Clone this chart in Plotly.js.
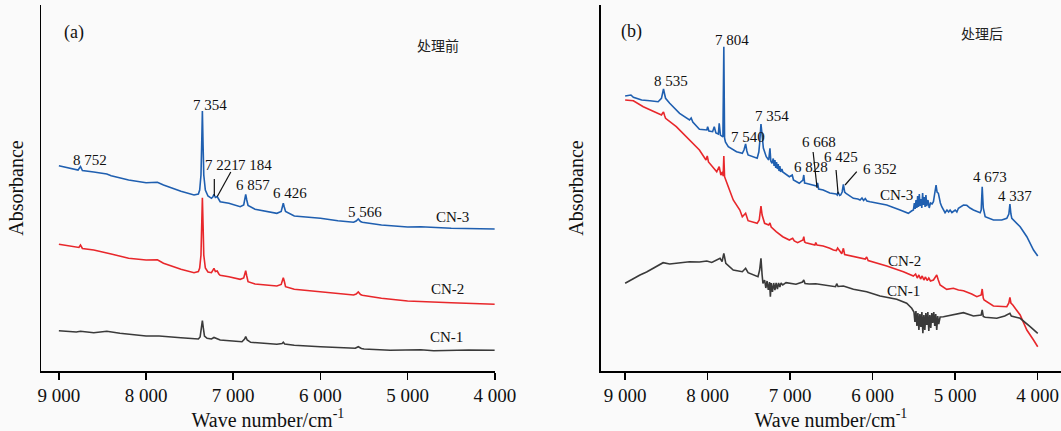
<!DOCTYPE html>
<html>
<head>
<meta charset="utf-8">
<script src="https://cdn.plot.ly/plotly-3.0.1.min.js"></script>
<style>
  html, body { margin: 0; padding: 0; background: #fafafa; }
  #chart { width: 1061px; height: 431px; }
</style>
</head>
<body>
<div id="chart"></div>
<script>
// NIR spectra (absorbance, arbitrary offset) of CN-1..CN-3, before (a) and after (b) treatment

const tickVals = [9000, 8000, 7000, 6000, 5000, 4000];
const tickText = ['9 000', '8 000', '7 000', '6 000', '5 000', '4 000'];

// ---- Panel (a): before treatment ----
const waveA_CN3 = [9000, 8800, 8780, 8752, 8730, 8600, 8450, 8400, 8200, 8000, 7870, 7800, 7600, 7450, 7400, 7385, 7370, 7362, 7354, 7346, 7338, 7320, 7290, 7250, 7235, 7221, 7205, 7184, 7165, 7150, 7050, 6920, 6880, 6865, 6857, 6845, 6830, 6750, 6500, 6450, 6435, 6426, 6415, 6400, 6300, 6000, 5800, 5620, 5590, 5566, 5540, 5520, 5300, 5000, 4850, 4500, 4000];
const absA_CN3 = [2.053, 2.017, 2.01, 2.045, 2.005, 1.99, 1.97, 1.953, 1.91, 1.883, 1.887, 1.86, 1.797, 1.76, 1.77, 1.81, 1.96, 2.26, 2.60, 2.26, 1.96, 1.81, 1.75, 1.727, 1.74, 1.767, 1.735, 1.745, 1.71, 1.693, 1.677, 1.643, 1.66, 1.73, 1.767, 1.71, 1.655, 1.617, 1.577, 1.595, 1.65, 1.677, 1.64, 1.595, 1.55, 1.527, 1.503, 1.487, 1.50, 1.52, 1.495, 1.487, 1.46, 1.44, 1.443, 1.427, 1.42];

const waveA_CN2 = [9000, 8800, 8770, 8752, 8730, 8600, 8450, 8400, 8200, 8000, 7870, 7800, 7600, 7450, 7400, 7385, 7370, 7362, 7354, 7346, 7338, 7320, 7290, 7250, 7235, 7221, 7205, 7184, 7165, 7150, 7050, 6920, 6880, 6865, 6857, 6845, 6830, 6750, 6500, 6450, 6435, 6426, 6415, 6400, 6300, 6000, 5800, 5620, 5590, 5566, 5540, 5520, 5300, 5000, 4500, 4000];
const absA_CN2 = [1.267, 1.237, 1.235, 1.26, 1.225, 1.21, 1.183, 1.17, 1.127, 1.11, 1.113, 1.077, 1.017, 0.983, 0.995, 1.03, 1.16, 1.46, 1.733, 1.46, 1.16, 1.03, 0.99, 0.983, 1.00, 1.027, 0.995, 1.00, 0.97, 0.957, 0.943, 0.917, 0.93, 0.97, 1.003, 0.95, 0.893, 0.87, 0.85, 0.865, 0.91, 0.933, 0.90, 0.843, 0.817, 0.79, 0.773, 0.76, 0.77, 0.79, 0.765, 0.757, 0.727, 0.70, 0.683, 0.667];

const waveA_CN1 = [9000, 8800, 8752, 8600, 8450, 8300, 8000, 7850, 7600, 7400, 7380, 7365, 7354, 7343, 7330, 7300, 7250, 7221, 7190, 7150, 6900, 6870, 6857, 6840, 6800, 6500, 6440, 6426, 6410, 6300, 6000, 5600, 5566, 5530, 5500, 5200, 4850, 4700, 4300, 4000];
const absA_CN1 = [0.403, 0.39, 0.397, 0.383, 0.397, 0.377, 0.35, 0.35, 0.333, 0.32, 0.34, 0.43, 0.503, 0.43, 0.35, 0.327, 0.32, 0.335, 0.325, 0.31, 0.293, 0.32, 0.343, 0.31, 0.287, 0.267, 0.275, 0.287, 0.27, 0.257, 0.243, 0.227, 0.243, 0.225, 0.22, 0.207, 0.213, 0.203, 0.21, 0.207];

// ---- Panel (b): after treatment ----
const waveB_CN3 = [9000, 8930, 8900, 8800, 8700, 8600, 8560, 8545, 8535, 8522, 8510, 8460, 8340, 8220, 8200, 8180, 8100, 8010, 8000, 7985, 7940, 7920, 7900, 7870, 7860, 7845, 7815, 7804, 7795, 7785, 7750, 7650, 7580, 7560, 7540, 7525, 7510, 7400, 7380, 7370, 7354, 7340, 7325, 7290, 7260, 7245, 7235, 7220, 7205, 7195, 7185, 7175, 7165, 7155, 7145, 7135, 7125, 7115, 7100, 7090, 7010, 6975, 6960, 6890, 6845, 6835, 6825, 6810, 6730, 6680, 6668, 6655, 6600, 6520, 6444, 6430, 6420, 6400, 6388, 6370, 6355, 6340, 6323, 6234, 6180, 6153, 6130, 6110, 6090, 6070, 6032, 5830, 5668, 5568, 5530, 5507, 5495, 5485, 5475, 5465, 5455, 5445, 5435, 5425, 5415, 5405, 5395, 5385, 5375, 5365, 5355, 5345, 5330, 5315, 5300, 5280, 5264, 5250, 5240, 5232, 5220, 5204, 5180, 5163, 5123, 5100, 5080, 5062, 5040, 5022, 5000, 4980, 4961, 4900, 4860, 4820, 4779, 4698, 4685, 4673, 4660, 4637, 4600, 4537, 4436, 4375, 4350, 4337, 4325, 4314, 4213, 4132, 4051, 4000];
const absB_CN3 = [2.75, 2.76, 2.737, 2.71, 2.703, 2.693, 2.727, 2.78, 2.82, 2.77, 2.727, 2.677, 2.577, 2.51, 2.53, 2.49, 2.417, 2.41, 2.443, 2.40, 2.393, 2.443, 2.38, 2.37, 2.477, 2.36, 2.34, 3.243, 2.33, 2.29, 2.243, 2.193, 2.177, 2.21, 2.27, 2.20, 2.16, 2.127, 2.19, 2.277, 2.47, 2.36, 2.23, 2.143, 2.11, 2.227, 2.10, 2.077, 2.125, 2.05, 2.11, 2.03, 2.09, 2.02, 2.07, 2.00, 2.05, 1.99, 2.02, 1.99, 1.943, 1.96, 1.91, 1.877, 1.91, 1.96, 1.88, 1.877, 1.86, 1.85, 1.88, 1.82, 1.81, 1.78, 1.77, 1.76, 1.79, 1.755, 1.76, 1.79, 1.867, 1.79, 1.777, 1.727, 1.72, 1.71, 1.73, 1.705, 1.725, 1.70, 1.693, 1.66, 1.61, 1.577, 1.60, 1.61, 1.68, 1.62, 1.71, 1.63, 1.75, 1.64, 1.77, 1.65, 1.72, 1.63, 1.78, 1.66, 1.74, 1.64, 1.76, 1.65, 1.71, 1.63, 1.68, 1.67, 1.693, 1.78, 1.83, 1.86, 1.79, 1.777, 1.68, 1.643, 1.583, 1.61, 1.59, 1.61, 1.585, 1.593, 1.61, 1.59, 1.627, 1.66, 1.657, 1.63, 1.61, 1.583, 1.61, 1.843, 1.63, 1.543, 1.53, 1.51, 1.51, 1.527, 1.57, 1.67, 1.57, 1.527, 1.443, 1.343, 1.21, 1.15];

const waveB_CN2 = [9000, 8900, 8780, 8620, 8560, 8545, 8535, 8520, 8510, 8380, 8220, 8100, 8020, 8005, 7990, 7890, 7860, 7840, 7820, 7812, 7804, 7795, 7750, 7690, 7610, 7580, 7540, 7520, 7510, 7400, 7375, 7354, 7340, 7310, 7260, 7245, 7230, 7170, 7090, 7010, 6970, 6950, 6910, 6845, 6835, 6825, 6810, 6700, 6690, 6675, 6600, 6520, 6476, 6440, 6425, 6375, 6355, 6340, 6234, 6090, 6073, 6055, 5830, 5628, 5507, 5480, 5460, 5440, 5420, 5400, 5380, 5360, 5340, 5320, 5300, 5264, 5240, 5224, 5205, 5183, 5103, 5022, 4960, 4900, 4800, 4738, 4685, 4673, 4660, 4650, 4537, 4375, 4350, 4337, 4325, 4302, 4213, 4132, 4051, 4000];
const absB_CN2 = [2.71, 2.703, 2.643, 2.577, 2.56, 2.58, 2.59, 2.55, 2.527, 2.443, 2.31, 2.21, 2.11, 2.15, 2.09, 1.993, 2.043, 1.96, 1.99, 1.95, 2.15, 1.943, 1.843, 1.71, 1.61, 1.543, 1.577, 1.52, 1.503, 1.477, 1.51, 1.65, 1.56, 1.477, 1.46, 1.48, 1.44, 1.393, 1.343, 1.31, 1.327, 1.30, 1.283, 1.31, 1.343, 1.29, 1.283, 1.26, 1.285, 1.26, 1.25, 1.227, 1.21, 1.205, 1.23, 1.173, 1.227, 1.165, 1.143, 1.12, 1.14, 1.105, 1.05, 0.993, 0.95, 0.97, 0.93, 0.96, 0.92, 0.95, 0.91, 0.94, 0.905, 0.93, 0.90, 0.91, 0.94, 0.96, 0.91, 0.86, 0.817, 0.827, 0.81, 0.803, 0.77, 0.743, 0.76, 0.82, 0.73, 0.71, 0.65, 0.643, 0.68, 0.737, 0.68, 0.66, 0.56, 0.41, 0.31, 0.243];

const waveB_CN1 = [9000, 8950, 8900, 8820, 8740, 8660, 8600, 8540, 8460, 8380, 8300, 8220, 8100, 8010, 7950, 7890, 7850, 7825, 7804, 7780, 7690, 7580, 7540, 7510, 7390, 7370, 7354, 7340, 7330, 7310, 7295, 7280, 7265, 7250, 7240, 7230, 7215, 7200, 7185, 7170, 7155, 7140, 7125, 7110, 7090, 7050, 6930, 6850, 6835, 6820, 6770, 6690, 6640, 6520, 6450, 6436, 6420, 6355, 6234, 6073, 5911, 5709, 5588, 5527, 5500, 5488, 5476, 5464, 5452, 5440, 5428, 5416, 5404, 5392, 5380, 5368, 5356, 5344, 5332, 5320, 5308, 5296, 5284, 5272, 5260, 5248, 5236, 5224, 5212, 5200, 5183, 5143, 5022, 4900, 4779, 4685, 4673, 4660, 4637, 4496, 4400, 4345, 4337, 4320, 4213, 4092, 4000];
const absB_CN1 = [0.877, 0.90, 0.93, 0.96, 0.99, 1.027, 1.05, 1.083, 1.07, 1.077, 1.085, 1.093, 1.09, 1.10, 1.085, 1.11, 1.127, 1.095, 1.177, 1.077, 1.01, 0.993, 1.027, 0.983, 0.943, 1.01, 1.127, 0.96, 0.877, 0.91, 0.83, 0.90, 0.81, 0.89, 0.743, 0.88, 0.79, 0.88, 0.81, 0.88, 0.82, 0.88, 0.84, 0.88, 0.86, 0.883, 0.867, 0.89, 0.91, 0.875, 0.87, 0.873, 0.867, 0.85, 0.843, 0.873, 0.845, 0.85, 0.817, 0.793, 0.75, 0.717, 0.677, 0.627, 0.59, 0.49, 0.60, 0.45, 0.58, 0.41, 0.57, 0.44, 0.59, 0.377, 0.56, 0.41, 0.58, 0.46, 0.59, 0.40, 0.56, 0.43, 0.58, 0.48, 0.59, 0.45, 0.57, 0.41, 0.55, 0.47, 0.54, 0.543, 0.56, 0.583, 0.55, 0.56, 0.61, 0.545, 0.537, 0.527, 0.55, 0.57, 0.577, 0.55, 0.527, 0.443, 0.377];

// Peak labels: [text, wave number, absorbance] for each panel
const peaksA = [
  ['8 752', 8648, 2.11], ['7 354', 7270, 2.66], ['7 221', 7131, 2.06], ['7 184', 6753, 2.06],
  ['6 857', 6770, 1.86], ['6 426', 6350, 1.783], ['5 566', 5485, 1.593]
];
const peaksB = [
  ['7 804', 7707, 3.31], ['8 535', 8449, 2.90], ['7 354', 7223, 2.553], ['7 540', 7506, 2.343],
  ['6 668', 6656, 2.287], ['6 425', 6379, 2.137], ['6 828', 6753, 2.043], ['6 352', 5911, 2.017],
  ['4 673', 4578, 1.943], ['4 337', 4277, 1.75]
];
// Leader lines: [x0, y0, x1, y1] in wave number / absorbance
const leadersA = [[7217, 1.92, 7217, 1.75], [7028, 1.99, 7183, 1.745]];
const leadersB = [[6722, 2.19, 6674, 1.83], [6444, 2.01, 6419, 1.77], [6193, 1.993, 6335, 1.86]];

const BLUE = '#1f5fb0', RED = '#e8272b', GREY = '#3a3a3a';
const SERIF = 'Liberation Serif, Times New Roman, serif';
const CJK = 'Noto Sans CJK SC, sans-serif';

function line(x, y, color, xa, ya, name) {
  return { x: x, y: y, type: 'scatter', mode: 'lines', name: name,
           xaxis: xa, yaxis: ya, line: { color: color, width: 1.6 }, hoverinfo: 'skip' };
}

const data = [
  line(waveA_CN3, absA_CN3, BLUE, 'x', 'y', 'CN-3'),
  line(waveA_CN2, absA_CN2, RED, 'x', 'y', 'CN-2'),
  line(waveA_CN1, absA_CN1, GREY, 'x', 'y', 'CN-1'),
  line(waveB_CN3, absB_CN3, BLUE, 'x2', 'y2', 'CN-3'),
  line(waveB_CN2, absB_CN2, RED, 'x2', 'y2', 'CN-2'),
  line(waveB_CN1, absB_CN1, GREY, 'x2', 'y2', 'CN-1')
];

function label(text, x, y, xr, yr, font) {
  return { text: text, x: x, y: y, xref: xr, yref: yr, showarrow: false,
           xanchor: 'center', yanchor: 'middle', font: font || { family: SERIF, size: 15, color: '#111' } };
}

const annotations = [];
peaksA.forEach(p => annotations.push(label(p[0], p[1], p[2], 'x', 'y')));
peaksB.forEach(p => annotations.push(label(p[0], p[1], p[2], 'x2', 'y2')));
annotations.push(
  label('(a)', 8829, 3.39, 'x', 'y', { family: SERIF, size: 18, color: '#111' }),
  label('(b)', 8919, 3.393, 'x2', 'y2', { family: SERIF, size: 18, color: '#111' }),
  label('处理前', 4651, 3.26, 'x', 'y', { family: CJK, size: 14, color: '#222' }),
  label('处理后', 4672, 3.383, 'x2', 'y2', { family: CJK, size: 14, color: '#222' }),
  label('CN-3', 4483, 1.537, 'x', 'y'),
  label('CN-2', 4545, 0.817, 'x', 'y'),
  label('CN-1', 4550, 0.337, 'x', 'y'),
  label('CN-3', 5707, 1.76, 'x2', 'y2'),
  label('CN-2', 5617, 1.10, 'x2', 'y2'),
  label('CN-1', 5623, 0.803, 'x2', 'y2')
);

const shapes = [];
leadersA.forEach(l => shapes.push({ type: 'line', xref: 'x', yref: 'y', x0: l[0], y0: l[1], x1: l[2], y1: l[3], line: { color: '#111', width: 1.2 } }));
leadersB.forEach(l => shapes.push({ type: 'line', xref: 'x2', yref: 'y2', x0: l[0], y0: l[1], x1: l[2], y1: l[3], line: { color: '#111', width: 1.2 } }));

function xAxis(domain, range, anchor) {
  return {
    domain: domain, range: range, anchor: anchor,
    tickvals: tickVals, ticktext: tickText,
    ticks: 'outside', ticklen: 7, tickwidth: 1.5, tickcolor: '#000',
    showline: true, linewidth: 1.5, linecolor: '#000',
    showgrid: false, zeroline: false,
    tickfont: { family: SERIF, size: 19, color: '#111' },
    title: { text: 'Wave number/cm<sup>-1</sup>', font: { family: SERIF, size: 20, color: '#111' }, standoff: 6 }
  };
}
function yAxis(anchor) {
  return {
    domain: [0, 1], range: [0, 3.66], anchor: anchor,
    showline: true, linewidth: 1.5, linecolor: '#000',
    showticklabels: false, ticks: '', showgrid: false, zeroline: false,
    title: { text: 'Absorbance', font: { family: SERIF, size: 20, color: '#111' }, standoff: 10 }
  };
}

const layout = {
  width: 1061, height: 431,
  margin: { l: 41, r: 0, t: 5, b: 60 },
  paper_bgcolor: '#fafafa', plot_bgcolor: '#fafafa',
  showlegend: false,
  xaxis: xAxis([0, 0.4449], [9205, 4000], 'y'),
  yaxis: yAxis('x'),
  xaxis2: xAxis([0.5489, 1], [9294, 3718], 'y2'),
  yaxis2: yAxis('x2'),
  annotations: annotations,
  shapes: shapes
};

Plotly.newPlot('chart', data, layout, { staticPlot: true, displayModeBar: false });
</script>
</body>
</html>
